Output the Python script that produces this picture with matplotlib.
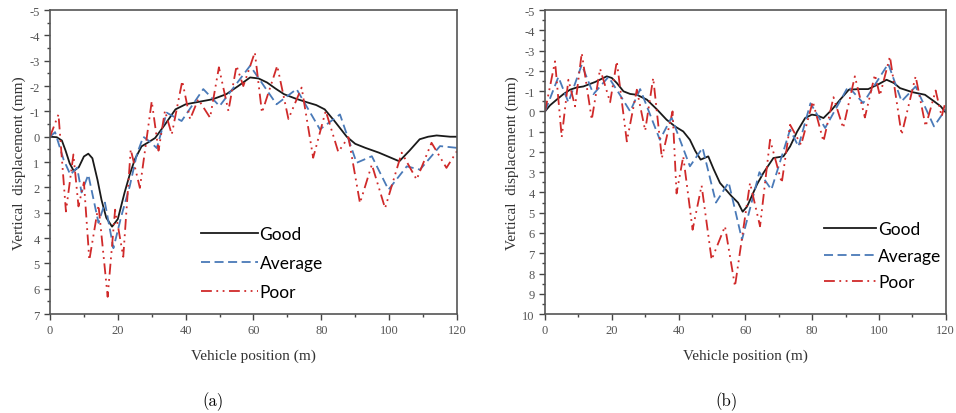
import matplotlib
matplotlib.use('Agg')
import matplotlib.pyplot as plt
from matplotlib.ticker import MultipleLocator

plt.rcParams['axes.unicode_minus'] = False

# (a) vertical displacement, mm (positive = down)
a_good_x = [0, 2, 3.5, 4.6, 5.8, 7, 8.5, 10, 11.3, 12.5, 14, 15.2, 16.6, 18.3, 20, 22, 23.5,
            25, 27, 29, 31, 34, 37, 40, 44, 48, 52, 55.5, 59, 61.5, 64, 66.5, 69, 72.5,
            76, 78.5, 81, 84, 87.5, 90, 93, 97, 100, 103, 106, 109, 111.5, 114, 118, 120]
a_good_y = [0, 0.02, 0.15, 0.55, 1.05, 1.35, 1.2, 0.78, 0.67, 0.85, 1.7, 2.5, 3.2, 3.55,
            3.25, 2.2, 1.5, 0.9, 0.38, 0.22, 0.05, -0.5, -1.08, -1.28, -1.38, -1.48, -1.68,
            -2.0, -2.34, -2.3, -2.14, -1.9, -1.68, -1.5, -1.35, -1.25, -1.08, -0.6, 0, 0.28,
            0.44, 0.63, 0.8, 0.97, 0.55, 0.1, 0.0, -0.05, 0, 0]

a_avg_x = [0, 1.5, 4, 6, 8, 9.3, 11.3, 14.3, 16.2, 18.7, 21, 23.5, 25.6, 27.5, 29.5, 31.5,
           34.4, 38.8, 45.2, 50, 59, 66.8, 72.7, 79.6, 85.5, 90.4, 94.9, 99.8, 105.2,
           109.1, 115, 120]
a_avg_y = [0, -0.18, 0.9, 1.5, 1.22, 2.2, 1.5, 3.4, 2.6, 4.4, 3.15, 1.96, 0.7, 0.0, 0.2,
           0.45, -0.95, -0.62, -1.88, -1.21, -2.8, -1.28, -1.88, -0.29, -0.88, 1.03, 0.77,
           2.09, 1.17, 1.3, 0.37, 0.44]

a_poor_x = [0, 2.5, 4.7, 6.9, 8.4, 10, 11.6, 14.3, 17, 19.2, 21.6, 23.8, 26.5, 30, 32,
            33.9, 35.9, 39, 41.3, 43.7, 47.2, 49.8, 52.6, 55, 57, 60.4, 62.5, 67, 70.3,
            74.2, 77.6, 81.3, 85, 88, 91.4, 94.9, 98.8, 103.7, 108.1, 112.5, 116.9, 120]
a_poor_y = [0, -0.88, 2.95, 0.7, 2.75, 1.8, 4.87, 2.7, 6.32, 2.88, 4.74, 0.5, 2.02, -1.4,
            0.55, -1.02, -0.09, -2.2, -0.69, -1.48, -0.75, -2.74, -1.02, -2.8, -2.0, -3.33,
            -0.95, -2.8, -0.7, -1.94, 0.83, -1.02, 0.6, 0.02, 2.62, 1.1, 2.82, 0.63, 1.69,
            0.24, 1.23, 0.57]

# (b)
b_good_x = [0, 1.5, 3.5, 5.5, 7.5, 9.5, 11.5, 15, 18.5, 20, 21.5, 23.5, 25.5, 27.5, 30.5,
            33.5, 36.4, 39, 41.4, 43.4, 45, 46.6, 48.9, 50.5, 52.4, 55.9, 57.8, 59.2, 60.5,
            61.9, 63.5, 65.4, 68.4, 71.4, 73.4, 75.5, 77.9, 79.9, 81.5, 83.4, 86, 88.4, 91,
            94, 96.8, 100, 102.3, 104.5, 106.3, 110, 113.8, 116.5, 118.5, 120]
b_good_y = [0, -0.3, -0.58, -0.85, -1.07, -1.18, -1.23, -1.45, -1.73, -1.65, -1.4, -0.99,
            -0.86, -0.82, -0.58, -0.1, 0.41, 0.75, 0.99, 1.4, 1.95, 2.38, 2.22, 2.85, 3.53,
            4.19, 4.5, 4.95, 4.7, 4.19, 3.6, 3.04, 2.3, 2.22, 1.73, 1.0, 0.33, 0.16, 0.2,
            0.33, -0.1, -0.58, -1.07, -1.1, -1.1, -1.35, -1.56, -1.4, -1.15, -0.95, -0.82,
            -0.5, -0.25, 0.05]

b_avg_x = [0, 4, 7, 11, 14.5, 19, 22.5, 25.5, 28.5, 34.4, 37.9, 43.4, 47.2, 51.2, 55, 59,
           64.2, 67.8, 73.4, 75.9, 79.5, 83.9, 90.8, 95.3, 102.8, 106.8, 111, 116.5, 120]
b_avg_y = [0, -1.7, -0.45, -2.3, -0.85, -1.7, -0.8, 0.0, -1.1, 1.4, 0.3, 2.71, 1.8, 4.5,
           3.5, 6.33, 3.0, 3.86, 0.9, 1.73, -0.4, 0.82, -1.23, -0.41, -2.35, -0.5, -1.23,
           0.74, -0.1]

b_poor_x = [0, 3, 5, 7, 9, 11, 14, 16.5, 19.5, 21.5, 24.5, 27.5, 30, 32.4, 35, 38.2, 39.4,
            41.4, 44.2, 46.9, 49.9, 53.9, 56.9, 61.4, 64.4, 67.4, 70.9, 73.4, 76.7, 80.2,
            83.4, 86.4, 89.3, 92.8, 95.8, 98.8, 100.3, 103.3, 106.8, 111, 114, 117, 118.8,
            120]
b_poor_y = [0, -2.47, 1.27, -1.56, -0.25, -2.88, 0.41, -2.1, -0.45, -2.47, 1.48, -1.07,
            0.95, -1.65, 2.3, 0.0, 4.05, 2.22, 5.84, 3.66, 7.32, 5.67, 8.63, 3.53, 5.67, 1.4,
            3.53, 0.66, 1.65, -0.49, 1.48, -0.7, 0.82, -1.73, 0.3, -1.81, -0.78, -2.71,
            1.15, -1.73, 0.74, -1.03, 0.25, -0.5]

labels = ['Good', 'Average', 'Poor']
colors = ['#1a1a1a', '#4a7ab8', '#d02a2a']
styles = ['-', (0, (5, 2.5)), (0, (6, 2.5, 1, 2.5, 1, 2.5))]

panels = [
    dict(rect=[0.0523, 0.239, 0.4257, 0.7343], ylim=(7, -5),
         data=[(a_good_x, a_good_y), (a_avg_x, a_avg_y), (a_poor_x, a_poor_y)],
         leg=(0.37, 0.29), spacing=0.75, hlen=3.3, cap='(a)', capx=0.223),
    dict(rect=[0.5701, 0.239, 0.4191, 0.7343], ylim=(10, -5),
         data=[(b_good_x, b_good_y), (b_avg_x, b_avg_y), (b_poor_x, b_poor_y)],
         leg=(0.697, 0.305), spacing=0.6, hlen=3.0, cap='(b)', capx=0.76),
]

serif = 'Liberation Serif'
fig = plt.figure(figsize=(9.56, 4.14), dpi=100)

for p in panels:
    ax = fig.add_axes(p['rect'])
    for (x, y), lab, c, ls in zip(p['data'], labels, colors, styles):
        ax.plot(x, y, color=c, linestyle=ls, linewidth=1.3, label=lab)
    ax.set_xlim(0, 120)
    ax.set_ylim(*p['ylim'])
    ax.xaxis.set_major_locator(MultipleLocator(20))
    ax.xaxis.set_minor_locator(MultipleLocator(10))
    ax.yaxis.set_major_locator(MultipleLocator(1))
    ax.yaxis.set_minor_locator(MultipleLocator(0.5))
    ax.tick_params(which='both', direction='out', colors='#444444',
                   labelcolor='#555555', labelsize=9, width=1)
    ax.tick_params(which='major', length=4)
    ax.tick_params(which='minor', length=2.5)
    for lbl in ax.get_xticklabels() + ax.get_yticklabels():
        lbl.set_family(serif)
    for s in ax.spines.values():
        s.set_color('#555555')
        s.set_linewidth(1.2)
    ax.set_xlabel('Vehicle position (m)', family=serif, fontsize=11,
                  color='#333333', labelpad=9)
    ax.set_ylabel('Vertical  displacement (mm)', family=serif, fontsize=11,
                  color='#333333', labelpad=2)
    ax.legend(loc='upper left', bbox_to_anchor=p['leg'], frameon=False,
              handlelength=p['hlen'], handletextpad=0.1, labelspacing=p['spacing'],
              borderaxespad=0, borderpad=0,
              prop={'family': 'Lato', 'size': 12.5})
    fig.text(p['capx'], 0.03, p['cap'], family='cmr10', fontsize=12,
             ha='center', va='center')

fig.savefig('out.png', dpi=100)
